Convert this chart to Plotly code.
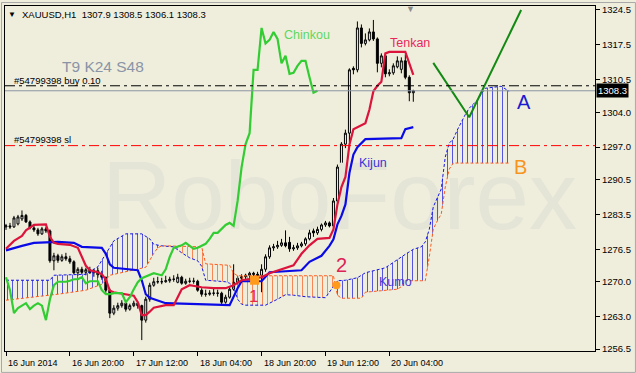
import plotly.graph_objects as go

# ---------------- data ----------------
symbol = "XAUUSD,H1"
bar_open = [1281.0, 1281.2, 1281.0, 1281.6, 1282.6, 1283.3, 1282.0, 1280.8, 1280.4, 1279.6,
            1280.6, 1280.2, 1274.2, 1275.2, 1274.3, 1275.0, 1274.6, 1274.0, 1271.8, 1272.5,
            1271.9, 1272.4, 1271.8, 1272.2, 1271.4, 1270.9, 1268.3, 1263.7, 1264.7, 1265.2,
            1265.7, 1264.5, 1265.2, 1265.7, 1265.2, 1262.3, 1266.5, 1269.3, 1270.0, 1270.0,
            1270.0, 1270.2, 1270.5, 1269.9, 1270.9, 1269.7, 1270.1, 1270.1, 1270.1, 1268.3,
            1267.5, 1267.5, 1267.7, 1267.7, 1267.7, 1265.9, 1266.9, 1268.5, 1269.9, 1270.7,
            1271.0, 1271.3, 1271.7, 1271.5, 1271.3, 1272.5, 1275.0, 1276.8, 1277.0, 1277.3,
            1277.8, 1277.9, 1276.6, 1276.8, 1277.2, 1277.6, 1278.6, 1280.2, 1279.8, 1280.5,
            1281.4, 1281.8, 1281.2, 1286.2, 1293.0, 1297.6, 1299.8, 1312.8, 1312.5, 1320.9,
            1317.8, 1318.5, 1320.1, 1318.7, 1313.8, 1315.3, 1311.7, 1311.9, 1313.1, 1312.6,
            1314.3, 1311.0, 1307.9]
bar_high = [1281.6, 1281.8, 1283.2, 1283.4, 1284.3, 1283.6, 1282.3, 1281.2, 1280.8, 1281.0,
            1281.0, 1280.5, 1275.8, 1275.6, 1275.5, 1275.8, 1275.2, 1274.3, 1272.9, 1273.0,
            1272.8, 1273.0, 1272.6, 1272.8, 1272.2, 1271.0, 1268.6, 1265.3, 1265.8, 1266.3,
            1266.0, 1265.6, 1266.2, 1266.0, 1265.4, 1267.0, 1269.8, 1270.8, 1271.0, 1270.8,
            1271.2, 1271.0, 1271.3, 1271.6, 1271.2, 1270.6, 1270.8, 1270.8, 1270.4, 1268.7,
            1268.4, 1268.3, 1268.6, 1268.4, 1268.0, 1267.4, 1269.0, 1273.5, 1271.2, 1271.5,
            1271.6, 1272.0, 1272.0, 1272.0, 1273.5, 1275.5, 1277.3, 1277.6, 1278.2, 1278.6,
            1280.3, 1279.0, 1277.4, 1277.8, 1278.0, 1278.9, 1280.8, 1281.6, 1281.2, 1281.9,
            1282.2, 1282.1, 1286.8, 1293.5, 1298.0, 1300.5, 1312.8, 1313.2, 1322.2, 1321.6,
            1319.8, 1320.8, 1322.5, 1319.0, 1315.8, 1315.8, 1312.6, 1313.8, 1315.2, 1315.0,
            1315.6, 1311.4, 1308.5]
bar_low = [1280.4, 1280.6, 1280.8, 1281.3, 1282.2, 1281.8, 1280.5, 1280.0, 1279.2, 1279.4,
           1279.8, 1273.8, 1272.3, 1273.8, 1274.0, 1274.2, 1273.6, 1271.5, 1271.2, 1271.5,
           1271.3, 1271.6, 1271.0, 1270.8, 1270.4, 1267.8, 1262.7, 1263.3, 1264.2, 1264.8,
           1264.0, 1264.2, 1264.9, 1264.6, 1258.3, 1261.8, 1266.0, 1269.0, 1269.6, 1269.5,
           1269.8, 1269.8, 1270.0, 1269.7, 1269.4, 1269.4, 1269.7, 1269.6, 1268.0, 1267.0,
           1267.0, 1267.2, 1267.2, 1267.0, 1265.5, 1265.6, 1266.6, 1268.2, 1269.4, 1270.2,
           1270.4, 1270.8, 1270.9, 1270.8, 1267.9, 1272.0, 1274.6, 1276.2, 1276.6, 1277.0,
           1276.9, 1276.0, 1276.2, 1276.4, 1276.9, 1277.2, 1278.3, 1279.0, 1279.4, 1280.1,
           1281.0, 1280.9, 1280.9, 1285.8, 1292.0, 1296.8, 1298.0, 1311.6, 1312.0, 1317.0,
           1317.4, 1318.2, 1318.3, 1312.0, 1313.0, 1311.0, 1311.2, 1311.5, 1312.8, 1311.8,
           1310.6, 1306.2, 1306.1]
bar_close = [1281.2, 1281.0, 1282.8, 1283.0, 1283.3, 1282.0, 1280.8, 1280.4, 1279.6, 1280.6,
             1280.2, 1274.2, 1275.2, 1274.3, 1275.0, 1274.6, 1274.0, 1271.8, 1272.5, 1271.9,
             1272.4, 1271.8, 1272.2, 1271.4, 1270.9, 1268.3, 1263.7, 1264.7, 1265.2, 1265.7,
             1264.5, 1265.2, 1265.7, 1265.2, 1262.3, 1266.5, 1269.3, 1270.0, 1270.0, 1270.0,
             1270.2, 1270.5, 1270.5, 1270.9, 1269.7, 1270.1, 1270.1, 1270.1, 1268.3, 1267.5,
             1267.5, 1267.7, 1267.7, 1267.7, 1265.9, 1266.9, 1268.5, 1269.9, 1270.7, 1271.0,
             1271.3, 1271.7, 1271.5, 1271.3, 1272.5, 1275.0, 1276.8, 1277.0, 1277.3, 1277.8,
             1277.2, 1276.6, 1276.8, 1277.2, 1277.6, 1278.6, 1279.8, 1279.8, 1280.5, 1281.4,
             1281.8, 1281.2, 1286.2, 1293.0, 1297.6, 1299.8, 1312.5, 1312.5, 1320.9, 1317.8,
             1318.5, 1320.1, 1318.7, 1313.8, 1315.3, 1311.7, 1311.9, 1313.3, 1314.3, 1314.3,
             1311.0, 1307.9, 1308.3]
bar_index = list(range(len(bar_close)))
chinkou_shift = 24

tenkan_x = [0, 2, 4, 5, 7, 10, 11, 12, 13, 16, 18, 19, 20, 21, 23, 24, 25, 26, 27, 32,
            33, 34, 35, 36, 37, 40, 42, 43, 44, 46, 49, 52, 55, 57, 59, 64, 66, 72, 74, 76,
            78, 81, 82, 83, 84, 85, 86, 87, 89, 90, 91, 92, 93, 94, 95, 96, 100, 101, 102]
tenkan_y = [1276.6, 1278.2, 1279.2, 1280.3, 1281.4, 1281.5, 1279.0, 1277.8, 1277.6, 1277.4,
            1276.8, 1275.0, 1273.2, 1272.3, 1271.9, 1271.5, 1270.5, 1268.2, 1267.9, 1267.2,
            1265.9, 1263.3, 1263.3, 1264.0, 1264.8, 1265.3, 1265.3, 1266.9, 1268.5, 1269.3,
            1268.9, 1268.7, 1268.7, 1269.3, 1270.3, 1270.9, 1271.7, 1273.3, 1275.6, 1277.3,
            1278.6, 1278.8, 1280.5, 1285.5, 1289.0, 1291.0, 1297.5, 1300.6, 1301.4, 1301.8,
            1304.5, 1308.2, 1309.3, 1310.1, 1315.8, 1316.1, 1316.1, 1313.8, 1311.5]

kijun_x = [0, 2, 4, 7, 13, 17, 19, 24, 25, 26, 27, 33, 34, 35, 36, 40, 56, 58, 59, 64,
           66, 74, 76, 79, 81, 82, 83, 84, 85, 86, 87, 88, 90, 99, 100, 102]
kijun_y = [1276.3, 1276.8, 1277.2, 1277.8, 1278.0, 1277.8, 1277.0, 1276.8, 1275.6, 1273.5,
           1272.8, 1272.3, 1270.3, 1267.5, 1266.8, 1265.7, 1265.3, 1268.7, 1270.1, 1270.1,
           1271.9, 1272.3, 1274.0, 1275.2, 1277.2, 1278.5, 1281.5, 1283.2, 1285.5, 1291.8,
           1295.5, 1297.0, 1298.6, 1298.8, 1300.6, 1301.0]

span_a_x = [0, 11, 12, 20, 23, 25, 26, 27, 30, 34, 36, 37, 39, 42, 44, 46, 48, 49, 50, 55,
            56, 57, 58, 59, 60, 65, 68, 70, 72, 75, 80, 82, 82.4, 83, 85, 88, 90, 95, 100,
            102, 104, 105, 106, 107, 108, 109, 110, 111, 112, 113, 115, 116, 118, 120, 124,
            125, 126]
span_a_y = [1270.3, 1270.3, 1271.3, 1271.5, 1273.0, 1275.5, 1277.0, 1278.2, 1279.6, 1279.6,
            1278.6, 1277.5, 1277.2, 1277.0, 1275.8, 1274.8, 1274.2, 1273.1, 1270.3, 1270.0,
            1269.7, 1269.0, 1266.5, 1265.5, 1265.3, 1265.3, 1266.5, 1267.4, 1267.3, 1267.0,
            1266.8, 1269.1, 1269.6, 1270.2, 1270.3, 1270.8, 1271.8, 1272.8, 1275.5, 1276.5,
            1277.0, 1278.0, 1280.5, 1285.0, 1286.8, 1288.6, 1295.0, 1297.8, 1298.6, 1300.4,
            1303.5, 1304.8, 1306.4, 1308.8, 1309.2, 1308.7, 1308.2]
span_b_x = [0, 10, 13, 20, 24, 26, 35, 37, 38, 39, 40, 49, 50, 56, 57, 58, 82, 82.4, 83, 84,
            89, 90, 98, 99, 100, 104, 105, 106, 107, 108, 109, 110, 111, 112, 126]
span_b_y = [1266.3, 1267.2, 1267.5, 1268.3, 1269.5, 1271.3, 1272.9, 1275.7, 1276.8, 1277.2,
            1277.2, 1277.0, 1273.6, 1273.3, 1271.7, 1271.2, 1271.2, 1269.6, 1267.3, 1266.7,
            1266.7, 1267.9, 1268.5, 1269.0, 1270.2, 1270.2, 1270.2, 1275.0, 1280.6, 1282.2,
            1283.6, 1289.0, 1292.6, 1293.8, 1293.8]
cloud_breaks = [0, 39, 82.4, 126]
cloud_colors = ["#1414e6", "#ff5a1a", "#1414e6"]

forecast_x = [107, 116, 129]
forecast_y = [1313.9, 1303.0, 1324.5]

signal_circle = (82.75, 1269.3)
signal_square = (62.25, 1270.3)

order_buy = 1309.3
order_sl = 1297.3
order_id = "#54799398"
last_price = bar_close[-1]

x_ticks = [0, 16, 32, 48, 64, 80, 96]
x_labels = ["16 Jun 2014", "16 Jun 20:00", "17 Jun 12:00", "18 Jun 04:00",
            "18 Jun 20:00", "19 Jun 12:00", "20 Jun 04:00"]
y_ticks = [1256.5, 1263.0, 1270.0, 1276.5, 1283.5, 1290.5, 1297.0, 1304.0, 1310.5, 1317.5, 1324.5]

# ---------------- layout constants ----------------
W, H = 636, 373
ML, MR, MT, MB = 4, 41, 4, 22
PW, PH = W - ML - MR, H - MT - MB
BG = "#efeedd"
FONT = "Liberation Sans"


def px_x(p):
    return (p - ML) / PW


def px_y(p):
    return (H - MB - p) / PH


fig = go.Figure()

# watermark
fig.add_trace(go.Scatter(x=[83.5], y=[1285.3], mode="text", text=["RoboForex"],
                         textfont=dict(family=FONT, size=96, color="#e4e4d7"),
                         hoverinfo="skip", showlegend=False))

# kumo hatch
for k in range(len(cloud_breaks) - 1):
    lo, hi = cloud_breaks[k], cloud_breaks[k + 1]
    ax = [x for x in span_a_x if lo <= x <= hi]
    ay = [y for x, y in zip(span_a_x, span_a_y) if lo <= x <= hi]
    bx = [x for x in span_b_x if lo <= x <= hi]
    by = [y for x, y in zip(span_b_x, span_b_y) if lo <= x <= hi]
    fig.add_trace(go.Scatter(x=ax + bx[::-1], y=ay + by[::-1], mode="lines", fill="toself",
                             line=dict(width=0), fillcolor="rgba(0,0,0,0)",
                             fillpattern=dict(shape="|", fgcolor=cloud_colors[k], bgcolor="rgba(0,0,0,0)",
                                              size=5, solidity=0.2, fgopacity=0.7),
                             hoverinfo="skip", showlegend=False))

fig.add_trace(go.Scatter(x=span_a_x, y=span_a_y, mode="lines",
                         line=dict(color="#1414e6", width=1, dash="3px,2px"), showlegend=False))
fig.add_trace(go.Scatter(x=span_b_x, y=span_b_y, mode="lines",
                         line=dict(color="#ff5a1a", width=1, dash="3px,2px"), showlegend=False))

# candles
fig.add_trace(go.Candlestick(x=bar_index, open=bar_open, high=bar_high, low=bar_low, close=bar_close,
                             increasing=dict(line=dict(color="black", width=1), fillcolor="white"),
                             decreasing=dict(line=dict(color="black", width=1), fillcolor="black"),
                             whiskerwidth=0, showlegend=False))

# ichimoku lines
fig.add_trace(go.Scatter(x=kijun_x, y=kijun_y, mode="lines",
                         line=dict(color="#0a0ae6", width=2.2), showlegend=False))
fig.add_trace(go.Scatter(x=tenkan_x, y=tenkan_y, mode="lines",
                         line=dict(color="#dc143c", width=2.2), showlegend=False))
fig.add_trace(go.Scatter(x=bar_index[:-chinkou_shift], y=bar_close[chinkou_shift:], mode="lines",
                         line=dict(color="#32cd32", width=2.2), showlegend=False))

# forecast
fig.add_trace(go.Scatter(x=forecast_x, y=forecast_y, mode="lines",
                         line=dict(color="#138a13", width=2), showlegend=False))

# signal markers
fig.add_trace(go.Scatter(x=[signal_square[0]], y=[signal_square[1]], mode="markers",
                         marker=dict(symbol="square", size=9, color="#ff9a1a"), showlegend=False))
fig.add_trace(go.Scatter(x=[signal_circle[0]], y=[signal_circle[1]], mode="markers",
                         marker=dict(symbol="circle", size=8, color="#ff9a1a"), showlegend=False))

# horizontal lines
fig.add_hline(y=last_price, line=dict(color="#8c96a4", width=1))
fig.add_hline(y=order_buy, line=dict(color="black", width=1, dash="10px,4px,3px,4px"))
fig.add_hline(y=order_sl, line=dict(color="#ff0000", width=1, dash="10px,4px,3px,4px"))

# frame of the window
fig.add_shape(type="rect", xref="paper", yref="paper",
              x0=px_x(0.5), x1=px_x(635.5), y0=px_y(372.5), y1=px_y(0.5),
              line=dict(color="#a8a8a8", width=1), layer="below")

ann = []


def label(text, x, y, size, color, xanchor="left", family=FONT, **kw):
    ann.append(dict(text=text, x=px_x(x), y=px_y(y), xref="paper", yref="paper",
                    xanchor=xanchor, yanchor="middle", showarrow=False,
                    font=dict(family=family, size=size, color=color), **kw))


o, h, l, c = bar_open[-1], bar_high[-1], bar_low[-1], bar_close[-1]
label("\u25BC", 11, 13, 8, "black", xanchor="center")
label(f"{symbol}&nbsp;&nbsp;{o:.1f} {h:.1f} {l:.1f} {c:.1f}", 19, 13, 9.5, "black")
label("T9 K24 S48", 59, 65, 15.5, "#8a94a6")
label(f"{order_id} buy 0.10", 11, 79, 9.5, "black")
label(f"{order_id} sl", 11, 138, 9.5, "black")
label("Chinkou", 281, 33, 12.5, "#5ed85e")
label("Tenkan", 388, 41, 12.5, "#e8285a")
label("Kijun", 357, 162, 12.5, "#3636d8")
label("Kumo", 377, 282, 12.5, "#4a36d8")
label("A", 524, 101, 20, "#1a1ad0", xanchor="center")
label("B", 520, 166, 20, "#f7941d", xanchor="center")
label("1", 253, 296, 17, "#e8294a", xanchor="center")
label("2", 341, 265, 20, "#dd2255", xanchor="center")
label("\u25BC", 410, 7, 9, "#8a8a8a", xanchor="center")

# x tick labels, left aligned at the tick
for t, s in zip(x_ticks, x_labels):
    ann.append(dict(text=s, x=t, y=0, xref="x", yref="paper", xanchor="left", yanchor="middle",
                    yshift=-12, xshift=0, showarrow=False, font=dict(family=FONT, size=9, color="black")))

# current price tag
ann.append(dict(text=f"{last_price:.1f}", x=1, y=last_price, xref="paper", yref="y",
                xanchor="left", yanchor="middle", xshift=1, showarrow=False,
                bgcolor="black", borderpad=1, font=dict(family=FONT, size=9.5, color="white")))

fig.update_layout(
    width=W, height=H, margin=dict(l=ML, r=MR, t=MT, b=MB),
    paper_bgcolor=BG, plot_bgcolor=BG, showlegend=False,
    annotations=ann,
    xaxis=dict(range=[-0.25, PW / 4 - 0.25], showgrid=False, zeroline=False, showline=True,
               linecolor="black", linewidth=1, mirror=True, ticks="outside", ticklen=4,
               tickcolor="black", tickvals=x_ticks, showticklabels=False,
               rangeslider=dict(visible=False)),
    yaxis=dict(range=[1256.11, 1325.30], side="right", showgrid=False, zeroline=False,
               showline=True, linecolor="black", linewidth=1, mirror=True, ticks="outside",
               ticklen=4, tickcolor="black", tickvals=y_ticks,
               ticktext=[f"{v:.1f}" for v in y_ticks],
               tickfont=dict(family=FONT, size=9.5, color="black")),
)

fig.write_html("out.html", config={"displayModeBar": False},
               post_script="document.body.style.margin='0';document.body.style.background='" + BG + "';")
